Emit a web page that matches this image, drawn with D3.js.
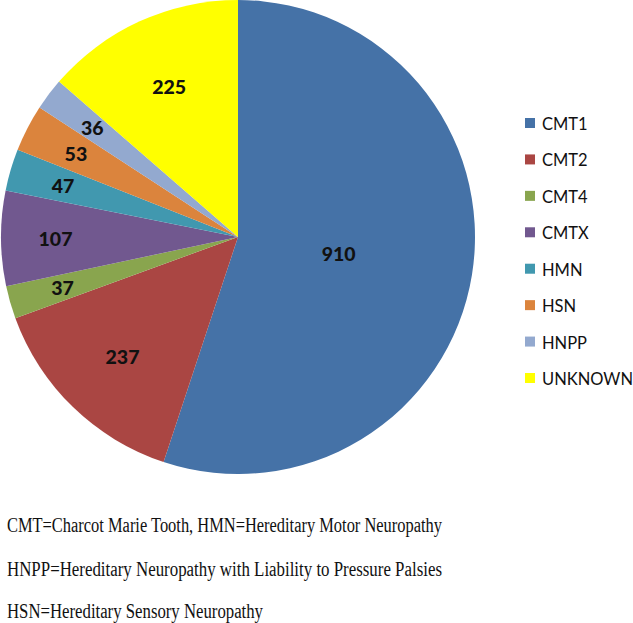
<!DOCTYPE html>
<html>
<head>
<meta charset="utf-8">
<script src="https://cdn.jsdelivr.net/npm/d3@7"></script>
<style>
  html, body { margin: 0; padding: 0; background: #fff; }
  svg { display: block; }
</style>
</head>
<body>
<svg id="chart" width="633" height="623"></svg>
<script>
const categories = ["CMT1", "CMT2", "CMT4", "CMTX", "HMN", "HSN", "HNPP", "UNKNOWN"];
const values = [910, 237, 37, 107, 47, 53, 36, 225];
const colors = ["#4572A7", "#AA4643", "#89A54E", "#71588F", "#4198AF", "#DB843D", "#93A9CF", "#FFFF00"];
const footnotes = [
  "CMT=Charcot Marie Tooth, HMN=Hereditary Motor Neuropathy",
  "HNPP=Hereditary Neuropathy with Liability to Pressure Palsies",
  "HSN=Hereditary Sensory Neuropathy"
];

const svg = d3.select("#chart");
const cx = 238, cy = 237, r = 237;

const data = categories.map((c, i) => ({ cat: c, value: values[i], color: colors[i] }));
const pie = d3.pie().value(d => d.value).sort(null);
const arcs = pie(data);
const arc = d3.arc().innerRadius(0).outerRadius(r);

const g = svg.append("g").attr("transform", `translate(${cx},${cy})`);
g.selectAll("path.slice").data(arcs).join("path")
  .attr("class", "slice")
  .attr("d", arc)
  .attr("fill", d => d.data.color);

function labelFrac(d) {
  const deg = (d.endAngle - d.startAngle) * 180 / Math.PI;
  if (deg >= 180) return 0.43;
  if (deg >= 40) return 0.70;
  return 0.77;
}
g.selectAll("text.lbl").data(arcs).join("text")
  .attr("class", "lbl")
  .attr("transform", d => {
    const la = d3.arc().innerRadius(r * labelFrac(d)).outerRadius(r * labelFrac(d));
    const [x, y] = la.centroid(d);
    return `translate(${x},${y})`;
  })
  .attr("text-anchor", "middle")
  .attr("dominant-baseline", "central")
  .attr("font-family", "Lato, 'Open Sans', sans-serif")
  .attr("font-weight", 900)
  .attr("font-size", 19.5)
  .attr("fill", "#111")
  .text(d => d.data.value);

// Legend
const legY = d3.scalePoint().domain(categories).range([123, 378]);
const leg = svg.append("g");
const items = leg.selectAll("g.item").data(data).join("g")
  .attr("class", "item")
  .attr("transform", d => `translate(525,${legY(d.cat)})`);
items.append("rect")
  .attr("x", 0).attr("y", -5).attr("width", 10).attr("height", 10)
  .attr("fill", d => d.color);
items.append("text")
  .attr("x", 17).attr("y", 1)
  .attr("dominant-baseline", "central")
  .attr("font-family", "Lato, 'Open Sans', sans-serif")
  .attr("font-size", 16.5)
  .attr("fill", "#111")
  .text(d => d.cat);

// Footnotes
const fnY = [532, 576, 618];
const fnW = [435, 435, 256];
svg.selectAll("text.fn").data(footnotes).join("text")
  .attr("class", "fn")
  .attr("x", 7)
  .attr("y", (d, i) => fnY[i])
  .attr("font-family", "'Liberation Serif', 'DejaVu Serif', serif")
  .attr("font-size", 20.5)
  .attr("fill", "#111")
  .attr("textLength", (d, i) => fnW[i])
  .attr("lengthAdjust", "spacingAndGlyphs")
  .text(d => d);
</script>
</body>
</html>
